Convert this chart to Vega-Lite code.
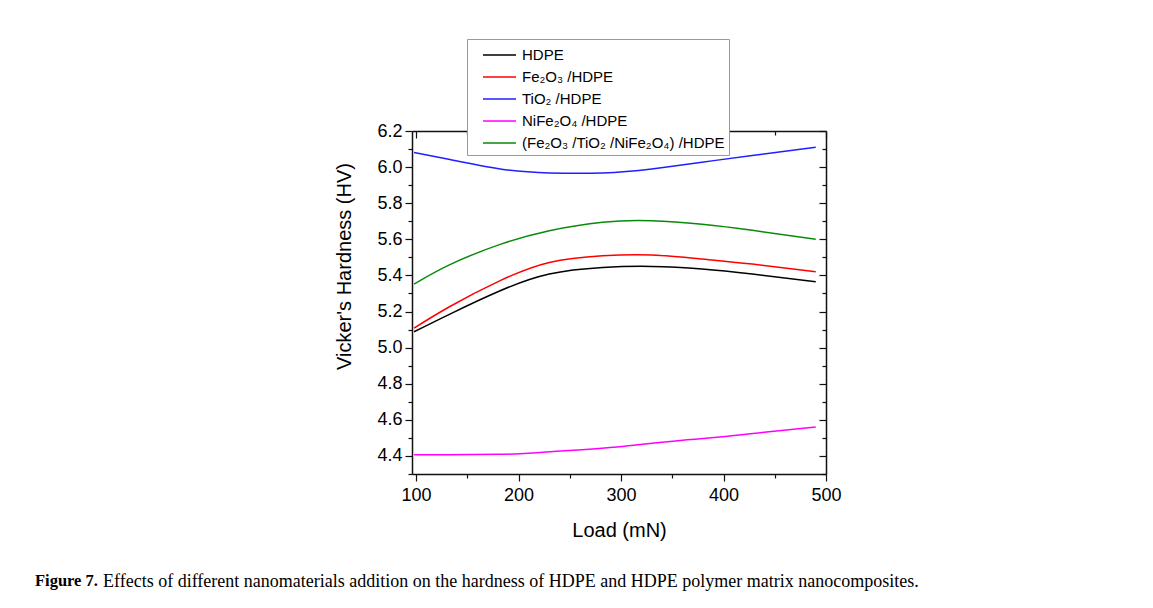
{
  "$schema": "https://vega.github.io/schema/vega-lite/v6.json",
  "background": "white",
  "padding": {"left": 35, "top": 38, "right": 10, "bottom": 10},
  "title": {
    "text": "Figure 7.",
    "orient": "bottom",
    "anchor": "start",
    "font": "Liberation Serif",
    "fontSize": 16.5,
    "fontWeight": "bold",
    "color": "black",
    "baseline": "alphabetic",
    "offset": -5,
    "dx": -68
  },
  "vconcat": [
    {
      "width": 414,
      "height": 343,
      "title": {
        "text": "Effects of different nanomaterials addition on the hardness of HDPE and HDPE polymer matrix nanocomposites.",
        "orient": "bottom",
        "anchor": "start",
        "frame": "group",
        "font": "Liberation Serif",
        "fontSize": 18,
        "fontWeight": "normal",
        "color": "black",
        "baseline": "alphabetic",
        "offset": 47,
        "dx": -309
      },
      "data": {
        "values": [
          {"sample": "HDPE", "load": 98, "hv": 5.088},
          {"sample": "HDPE", "load": 133, "hv": 5.186},
          {"sample": "HDPE", "load": 182, "hv": 5.315},
          {"sample": "HDPE", "load": 230, "hv": 5.408},
          {"sample": "HDPE", "load": 282, "hv": 5.444},
          {"sample": "HDPE", "load": 330, "hv": 5.45},
          {"sample": "HDPE", "load": 379, "hv": 5.436},
          {"sample": "HDPE", "load": 428, "hv": 5.408},
          {"sample": "HDPE", "load": 490, "hv": 5.365},
          {"sample": "Fe₂O₃ /HDPE", "load": 98, "hv": 5.108},
          {"sample": "Fe₂O₃ /HDPE", "load": 133, "hv": 5.228},
          {"sample": "Fe₂O₃ /HDPE", "load": 182, "hv": 5.371},
          {"sample": "Fe₂O₃ /HDPE", "load": 230, "hv": 5.472},
          {"sample": "Fe₂O₃ /HDPE", "load": 282, "hv": 5.509},
          {"sample": "Fe₂O₃ /HDPE", "load": 330, "hv": 5.513},
          {"sample": "Fe₂O₃ /HDPE", "load": 379, "hv": 5.491},
          {"sample": "Fe₂O₃ /HDPE", "load": 428, "hv": 5.463},
          {"sample": "Fe₂O₃ /HDPE", "load": 490, "hv": 5.42},
          {"sample": "TiO₂ /HDPE", "load": 98, "hv": 6.081},
          {"sample": "TiO₂ /HDPE", "load": 133, "hv": 6.042},
          {"sample": "TiO₂ /HDPE", "load": 182, "hv": 5.99},
          {"sample": "TiO₂ /HDPE", "load": 230, "hv": 5.968},
          {"sample": "TiO₂ /HDPE", "load": 282, "hv": 5.968},
          {"sample": "TiO₂ /HDPE", "load": 330, "hv": 5.99},
          {"sample": "TiO₂ /HDPE", "load": 379, "hv": 6.027},
          {"sample": "TiO₂ /HDPE", "load": 428, "hv": 6.064},
          {"sample": "TiO₂ /HDPE", "load": 490, "hv": 6.11},
          {"sample": "NiFe₂O₄ /HDPE", "load": 98, "hv": 4.406},
          {"sample": "NiFe₂O₄ /HDPE", "load": 133, "hv": 4.407},
          {"sample": "NiFe₂O₄ /HDPE", "load": 182, "hv": 4.409},
          {"sample": "NiFe₂O₄ /HDPE", "load": 214, "hv": 4.417},
          {"sample": "NiFe₂O₄ /HDPE", "load": 262, "hv": 4.435},
          {"sample": "NiFe₂O₄ /HDPE", "load": 296, "hv": 4.45},
          {"sample": "NiFe₂O₄ /HDPE", "load": 328, "hv": 4.469},
          {"sample": "NiFe₂O₄ /HDPE", "load": 360, "hv": 4.487},
          {"sample": "NiFe₂O₄ /HDPE", "load": 399, "hv": 4.506},
          {"sample": "NiFe₂O₄ /HDPE", "load": 442, "hv": 4.533},
          {"sample": "NiFe₂O₄ /HDPE", "load": 490, "hv": 4.561},
          {"sample": "(Fe₂O₃ /TiO₂ /NiFe₂O₄) /HDPE", "load": 98, "hv": 5.352},
          {"sample": "(Fe₂O₃ /TiO₂ /NiFe₂O₄) /HDPE", "load": 133, "hv": 5.46},
          {"sample": "(Fe₂O₃ /TiO₂ /NiFe₂O₄) /HDPE", "load": 182, "hv": 5.572},
          {"sample": "(Fe₂O₃ /TiO₂ /NiFe₂O₄) /HDPE", "load": 230, "hv": 5.648},
          {"sample": "(Fe₂O₃ /TiO₂ /NiFe₂O₄) /HDPE", "load": 282, "hv": 5.695},
          {"sample": "(Fe₂O₃ /TiO₂ /NiFe₂O₄) /HDPE", "load": 330, "hv": 5.703},
          {"sample": "(Fe₂O₃ /TiO₂ /NiFe₂O₄) /HDPE", "load": 379, "hv": 5.683},
          {"sample": "(Fe₂O₃ /TiO₂ /NiFe₂O₄) /HDPE", "load": 428, "hv": 5.65},
          {"sample": "(Fe₂O₃ /TiO₂ /NiFe₂O₄) /HDPE", "load": 490, "hv": 5.6}
        ]
      },
      "layer": [
        {
          "mark": {"type": "line", "strokeWidth": 1.5, "interpolate": "natural"},
          "encoding": {
            "x": {
              "field": "load",
              "type": "quantitative",
              "scale": {"domain": [96, 500], "nice": false, "zero": false},
              "axis": {
                "orient": "bottom",
                "values": [100, 150, 200, 250, 300, 350, 400, 450, 500],
                "labelExpr": "datum.value % 100 === 0 ? datum.label : ''",
                "tickSize": {"condition": {"test": "datum.value % 100 === 0", "value": 7}, "value": 4},
                "labelFontSize": 18,
                "labelPadding": 5,
                "labelFlush": false,
                "labelOverlap": false,
                "title": "Load (mN)",
                "titleFontSize": 20,
                "titlePadding": 16
              }
            },
            "y": {
              "field": "hv",
              "type": "quantitative",
              "scale": {"domain": [4.3, 6.2], "nice": false, "zero": false},
              "axis": {
                "orient": "left",
                "values": [4.3, 4.4, 4.5, 4.6, 4.7, 4.8, 4.9, 5.0, 5.1, 5.2, 5.3, 5.4, 5.5, 5.6, 5.7, 5.8, 5.9, 6.0, 6.1, 6.2],
                "format": ".1f",
                "labelExpr": "round(datum.value * 10) % 2 === 0 ? datum.label : ''",
                "tickSize": {"condition": {"test": "round(datum.value * 10) % 2 === 0", "value": 7}, "value": 4},
                "labelFontSize": 18,
                "labelPadding": 3,
                "labelFlush": false,
                "labelOverlap": false,
                "title": "Vicker's Hardness (HV)",
                "titleFontSize": 20,
                "titlePadding": 22,
                "titleY": 135
              }
            },
            "color": {
              "field": "sample",
              "type": "nominal",
              "scale": {
                "domain": ["HDPE", "Fe₂O₃ /HDPE", "TiO₂ /HDPE", "NiFe₂O₄ /HDPE", "(Fe₂O₃ /TiO₂ /NiFe₂O₄) /HDPE"],
                "range": ["#000000", "#ff0000", "#1f1fff", "#ff00ff", "#0a8a0a"]
              },
              "legend": {
                "orient": "none",
                "legendX": 55,
                "legendY": -92,
                "title": null,
                "fillColor": "white",
                "strokeColor": "#999999",
                "padding": 4,
                "symbolType": "M-1.5,0H1.5",
                "symbolSize": 484,
                "symbolStrokeWidth": 1.5,
                "symbolOffset": 16.5,
                "labelFont": "Liberation Sans",
                "labelFontSize": 15,
                "labelColor": "black",
                "labelOffset": 10.5,
                "labelLimit": 400,
                "rowPadding": 2,
                "zindex": 1
              }
            }
          }
        },
        {
          "mark": {"type": "line", "opacity": 0},
          "encoding": {
            "detail": {"field": "sample"},
            "x": {
              "field": "load",
              "type": "quantitative",
              "axis": {
                "orient": "top",
                "values": [100, 150, 200, 250, 300, 350, 400, 450, 500],
                "labels": false,
                "title": null,
                "tickSize": {"condition": {"test": "datum.value % 100 === 0", "value": -7}, "value": -4}
              }
            },
            "y": {
              "field": "hv",
              "type": "quantitative",
              "axis": {
                "orient": "right",
                "values": [4.3, 4.4, 4.5, 4.6, 4.7, 4.8, 4.9, 5.0, 5.1, 5.2, 5.3, 5.4, 5.5, 5.6, 5.7, 5.8, 5.9, 6.0, 6.1, 6.2],
                "labels": false,
                "title": null,
                "tickSize": {"condition": {"test": "round(datum.value * 10) % 2 === 0", "value": -7}, "value": -4}
              }
            }
          }
        }
      ],
      "resolve": {"axis": {"x": "independent", "y": "independent"}}
    }
  ],
  "config": {
    "view": {"stroke": null},
    "font": "Liberation Sans",
    "axis": {
      "grid": false,
      "labelFont": "Liberation Sans",
      "titleFont": "Liberation Sans",
      "labelColor": "black",
      "titleColor": "black",
      "titleFontWeight": "normal",
      "domainColor": "#111111",
      "domainWidth": 1.5,
      "tickColor": "#111111",
      "tickWidth": 1.2
    }
  }
}
